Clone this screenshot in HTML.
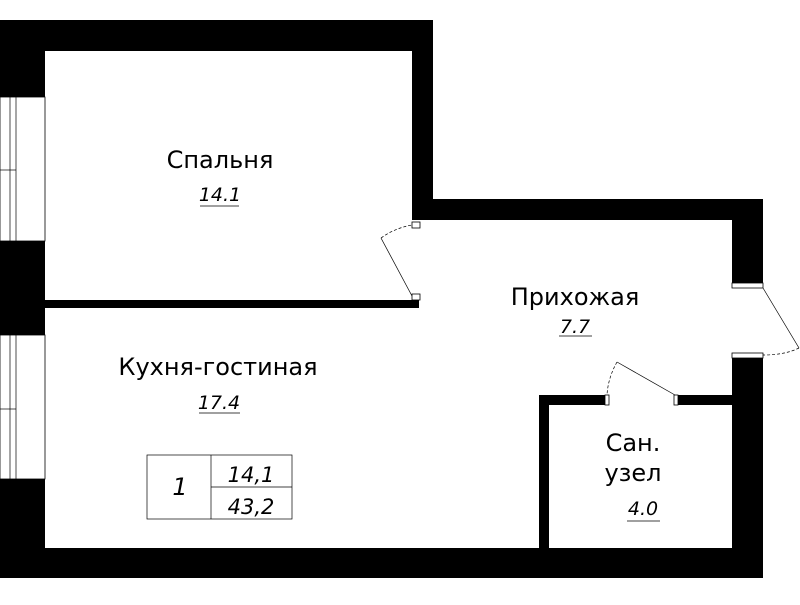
<!DOCTYPE html>
<html><head><meta charset="utf-8"><style>
body{margin:0;background:#fff;width:800px;height:600px;overflow:hidden}
svg text{font-family:"DejaVu Sans","Liberation Sans",sans-serif;fill:#000}
</style></head><body>
<svg width="800" height="600" viewBox="0 0 800 600" xmlns="http://www.w3.org/2000/svg">
<g fill="#000">
<rect x="0" y="20" width="433" height="31"/>
<rect x="0" y="20" width="45" height="558"/>
<rect x="412" y="20" width="21" height="200"/>
<rect x="412" y="199" width="351" height="21"/>
<rect x="732" y="199" width="31" height="84"/>
<rect x="732" y="353" width="31" height="225"/>
<rect x="0" y="548" width="763" height="30"/>
<rect x="45" y="300" width="374" height="8"/>
<rect x="539" y="395" width="10" height="153"/>
<rect x="539" y="395" width="68" height="10"/>
<rect x="676" y="395" width="56" height="10"/>
</g>
<g fill="#fff" stroke="#000" stroke-width="0.8">
<rect x="0" y="97" width="45" height="144"/>
<rect x="0" y="335" width="45" height="144"/>
<rect x="412" y="222" width="8" height="6"/>
<rect x="412" y="294" width="8" height="6"/>
<rect x="732" y="283" width="31" height="5"/>
<rect x="732" y="353" width="31" height="5"/>
<rect x="605" y="395" width="4" height="10"/>
<rect x="674" y="395" width="4" height="10"/>
</g>
<g stroke="#000" stroke-width="0.7" fill="none">
<line x1="10" y1="97" x2="10" y2="241"/><line x1="16" y1="97" x2="16" y2="241"/>
<line x1="0" y1="170" x2="16" y2="170"/>
<line x1="10" y1="335" x2="10" y2="479"/><line x1="16" y1="335" x2="16" y2="479"/>
<line x1="0" y1="409" x2="16" y2="409"/>
<line x1="412" y1="296" x2="381" y2="238"/>
<path d="M381 238 Q395 228 412 225" stroke-dasharray="3,2"/>
<line x1="763" y1="288" x2="799" y2="348"/>
<path d="M799 348 Q785 355 763 355" stroke-dasharray="3,2"/>
<line x1="675" y1="395" x2="617" y2="362"/>
<path d="M617 362 Q608 378 607 395" stroke-dasharray="3,2"/>
<rect x="147" y="455" width="145" height="64"/>
<line x1="211" y1="455" x2="211" y2="519"/>
<line x1="211" y1="487" x2="292" y2="487"/>
<line x1="200" y1="206" x2="239" y2="206"/>
<line x1="559" y1="336" x2="592" y2="336"/>
<line x1="199" y1="413" x2="240" y2="413"/>
<line x1="627" y1="521" x2="660" y2="521"/>
</g>
<text x="220" y="168" font-size="24" text-anchor="middle">Спальня</text>
<text x="220" y="201" font-size="19" font-style="italic" text-anchor="middle">14.1</text>
<text x="575" y="305" font-size="24" text-anchor="middle">Прихожая</text>
<text x="575" y="333" font-size="19" font-style="italic" text-anchor="middle">7.7</text>
<text x="218" y="375" font-size="24" text-anchor="middle">Кухня-гостиная</text>
<text x="219" y="409" font-size="19" font-style="italic" text-anchor="middle">17.4</text>
<text x="180" y="495" font-size="24" font-style="italic" text-anchor="middle">1</text>
<text x="251" y="482" font-size="21" font-style="italic" text-anchor="middle">14,1</text>
<text x="251" y="514" font-size="21" font-style="italic" text-anchor="middle">43,2</text>
<text x="633" y="451" font-size="24" text-anchor="middle">Сан.</text>
<text x="633" y="481" font-size="24" text-anchor="middle">узел</text>
<text x="643" y="515" font-size="19" font-style="italic" text-anchor="middle">4.0</text>
</svg>
</body></html>
